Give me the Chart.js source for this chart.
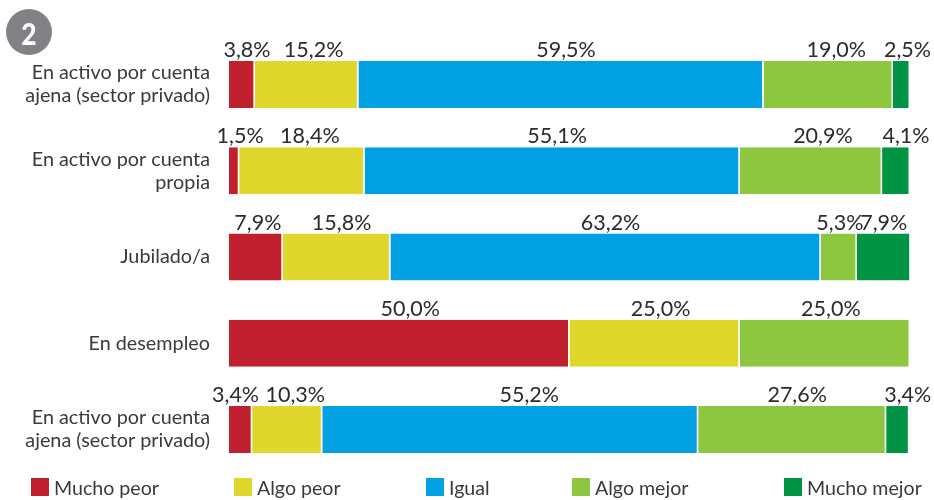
<!DOCTYPE html>
<html><head><meta charset="utf-8">
<style>html,body{margin:0;padding:0;background:#fff}#w{position:relative;width:934px;height:500px}</style>
<script src="https://cdn.jsdelivr.net/npm/chart.js@4"></script></head>
<body><div id="w"><canvas id="c" width="934" height="500"></canvas></div>
<script>
const categories = [
  ["En activo por cuenta","ajena (sector privado)"],
  ["En activo por cuenta","propia"],
  "Jubilado/a",
  "En desempleo",
  ["En activo por cuenta","ajena (sector privado)"]
];
const muchoPeor  = [3.8, 1.5, 7.9, 50.0, 3.4];
const algoPeor   = [15.2, 18.4, 15.8, 25.0, 10.3];
const igual      = [59.5, 55.1, 63.2, 0, 55.2];
const algoMejor  = [19.0, 20.9, 5.3, 25.0, 27.6];
const muchoMejor = [2.5, 4.1, 7.9, 0, 3.4];
const seriesNames = ["Mucho peor","Algo peor","Igual","Algo mejor","Mucho mejor"];
const seriesValues = [muchoPeor, algoPeor, igual, algoMejor, muchoMejor];
const seriesColors = ["#C01F2E","#E0D72D","#00A0E3","#8DC63F","#009444"];
const badgeText = "2";

// label offsets in px from each segment's centre, [series][category]
const labelNudge = [[5,6,2,11,-5],[7,8,5,6,8],[5,5,5,0,19],[8,12,1,6,5],[6,10,0,0,10]];
const legendX = [31,234,426,572,784];
const FONT = 'Lato,sans-serif';
const TXT = '#3a3a3c';

const overlay = {
  id:'overlay',
  afterDatasetsDraw(chart){
    const ctx = chart.ctx;
    ctx.save();
    ctx.font = '21.5px '+FONT; ctx.fillStyle = '#2b2b2d';
    ctx.textAlign='center'; ctx.textBaseline='alphabetic';
    chart.data.datasets.forEach((ds,si)=>{
      const meta = chart.getDatasetMeta(si);
      ds.data.forEach((v,i)=>{
        if(!v) return;
        const b = meta.data[i].getProps(['x','y','base','height'],true);
        const cx = (b.x+b.base)/2 + labelNudge[si][i];
        ctx.fillText(v.toFixed(1).replace('.',',')+'%', cx, b.y-b.height/2-4);
      });
    });
    ctx.textAlign='left'; ctx.font='19.6px '+FONT;
    seriesNames.forEach((n,i)=>{
      ctx.fillStyle=seriesColors[i];
      ctx.fillRect(legendX[i],478,18,18);
      ctx.fillStyle=TXT;
      ctx.fillText(n,legendX[i]+23,495);
    });
    ctx.fillStyle='#808285';
    ctx.beginPath(); ctx.arc(29,32,23,0,Math.PI*2); ctx.fill();
    ctx.fillStyle='#fff'; ctx.textAlign='center'; ctx.font='900 31px '+FONT;
    ctx.translate(29,45); ctx.scale(0.85,1);
    ctx.fillText(badgeText,0,0);
    ctx.restore();
  }
};

new Chart(document.getElementById('c'),{
  type:'bar',
  data:{labels:categories,datasets:seriesNames.map((n,i)=>({
    label:n,data:seriesValues[i],backgroundColor:seriesColors[i],
    borderColor:'#fff',borderWidth:{left:0,right:1.5,top:0,bottom:0},borderSkipped:false,
    barPercentage:0.545,categoryPercentage:1
  }))},
  options:{
    indexAxis:'y',responsive:false,animation:false,
    layout:{padding:{top:41.4,bottom:27.35,right:24,left:0}},
    plugins:{legend:{display:false},tooltip:{enabled:false}},
    scales:{
      x:{stacked:true,min:0,max:100,display:false},
      y:{stacked:true,
         afterFit(s){s.width=229;s.paddingTop=0;s.paddingBottom=0;},
         grid:{display:false,drawTicks:false},border:{display:false},
         ticks:{padding:19,color:TXT,autoSkip:false,font:{family:FONT,size:19.8,lineHeight:'23px'}}}
    }
  },
  plugins:[overlay]
});
</script></body></html>
